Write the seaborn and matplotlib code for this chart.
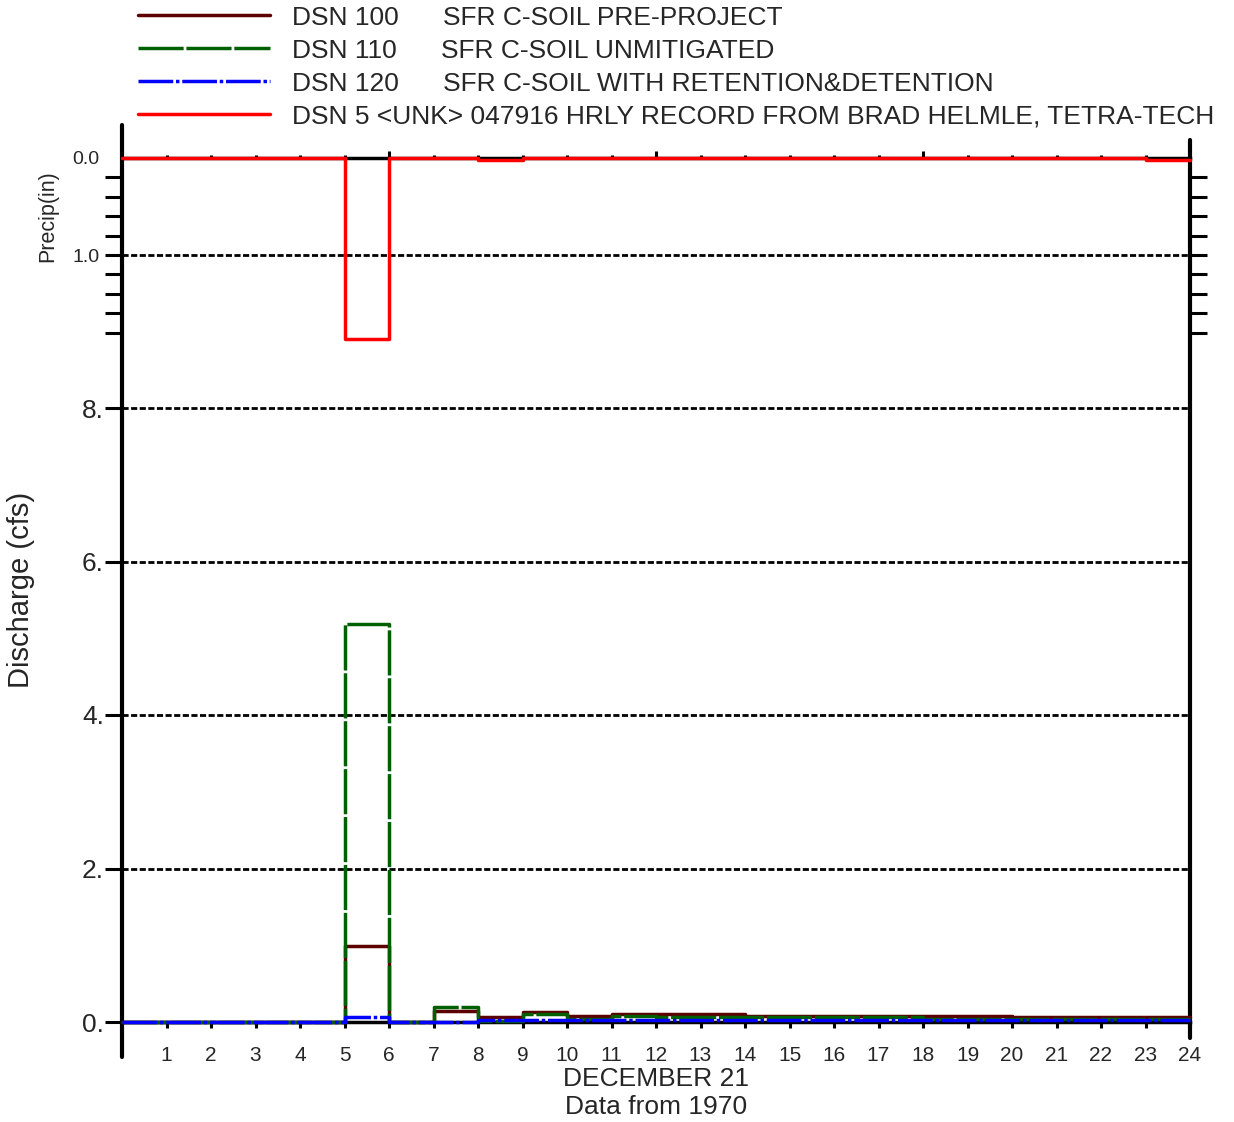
import numpy as np
import pandas as pd
import matplotlib
matplotlib.use('Agg')
import matplotlib.pyplot as plt
import seaborn as sns
from matplotlib.ticker import FixedLocator, FuncFormatter, NullFormatter

# valores horarios, 21 de dezembro de 1970 (hora 0-1 ... 23-24)
horas = list(range(0, 25))
dsn100 = [0.0, 0.0, 0.0, 0.0, 0.0, 0.99, 0.0, 0.14, 0.07, 0.13, 0.08, 0.10,
          0.10, 0.10, 0.08, 0.08, 0.08, 0.08, 0.08, 0.08, 0.07, 0.07, 0.07, 0.07]
dsn110 = [0.0, 0.0, 0.0, 0.0, 0.0, 5.19, 0.0, 0.20, 0.01, 0.11, 0.04, 0.08,
          0.07, 0.06, 0.06, 0.06, 0.06, 0.06, 0.04, 0.04, 0.04, 0.04, 0.04, 0.04]
dsn120 = [0.0, 0.0, 0.0, 0.0, 0.0, 0.06, 0.0, 0.0, 0.02, 0.02, 0.02, 0.03,
          0.03, 0.03, 0.03, 0.03, 0.03, 0.03, 0.03, 0.03, 0.03, 0.03, 0.03, 0.03]
precip = [0.0, 0.0, 0.0, 0.0, 0.0, 1.87, 0.0, 0.0, 0.02, 0.0, 0.0, 0.0,
          0.0, 0.0, 0.0, 0.0, 0.0, 0.0, 0.0, 0.0, 0.0, 0.0, 0.0, 0.02]

rotulos = ['DSN 100      SFR C-SOIL PRE-PROJECT',
           'DSN 110      SFR C-SOIL UNMITIGATED',
           'DSN 120      SFR C-SOIL WITH RETENTION&DETENTION',
           'DSN 5 <UNK> 047916 HRLY RECORD FROM BRAD HELMLE, TETRA-TECH']
x_ticks = list(range(1, 25))
x_labels = [str(h) for h in x_ticks]
y_ticks = [0, 2, 4, 6, 8]
p_ticks = [0.0, 1.0]
p_minor = [0.2, 0.4, 0.6, 0.8, 1.2, 1.4, 1.6, 1.8]


def degrau(vals):
    # repete o ultimo valor para fechar o degrau na hora 24
    return pd.DataFrame({'hora': horas, 'valor': vals + [vals[-1]]})


sns.set_theme(style='white')
plt.rcParams['font.family'] = ['Liberation Sans', 'DejaVu Sans']

fig = plt.figure(figsize=(12.34, 11.22), dpi=100)
ax = fig.add_axes([122 / 1234, 100 / 1122, 1068 / 1234, 864 / 1122])
tax = ax.twinx()

lw = 2.5
sns.lineplot(data=degrau(dsn100), x='hora', y='valor', ax=ax, color='#5c0000',
             lw=lw, drawstyle='steps-post', clip_on=False, zorder=3)
sns.lineplot(data=degrau(dsn110), x='hora', y='valor', ax=ax, color='#006000',
             lw=lw, drawstyle='steps-post', clip_on=False, zorder=4)
sns.lineplot(data=degrau(dsn120), x='hora', y='valor', ax=ax, color='#0000ff',
             lw=lw, drawstyle='steps-post', clip_on=False, zorder=5)
ax.lines[1].set_linestyle((0, (13, 0.8)))
ax.lines[2].set_linestyle((0, (10, 0.8, 1, 0.8)))
sns.lineplot(data=degrau(precip), x='hora', y='valor', ax=tax, color='#ff0000',
             lw=lw, drawstyle='steps-post', clip_on=False, zorder=5)

# eixos
ax.set_xlim(0, 24)
ax.set_ylim(0, (1022 - 158) / 76.75)
tax.set_ylim((1022 - 158) / 97.0, 0)

ax.xaxis.set_major_locator(FixedLocator(x_ticks))
ax.xaxis.set_major_formatter(FuncFormatter(lambda v, p: x_labels[int(round(v)) - 1]))
ax.xaxis.set_minor_locator(FixedLocator([6, 12, 18]))
ax.xaxis.set_minor_formatter(NullFormatter())
ax.tick_params(axis='x', which='both', bottom=True, top=False, direction='out',
               width=2.2, color='black', labelsize=15)
ax.tick_params(axis='x', which='major', length=4, pad=13)
ax.tick_params(axis='x', which='minor', length=7)

sec = ax.secondary_xaxis('top')
sec.xaxis.set_major_locator(FixedLocator([6, 12, 18]))
sec.xaxis.set_minor_locator(FixedLocator([h for h in range(1, 24) if h % 6]))
sec.tick_params(which='both', direction='out', width=2.2, color='black', labeltop=False)
sec.tick_params(which='major', length=5)
sec.tick_params(which='minor', length=2)
sec.spines['top'].set_visible(False)

ax.set_yticks(y_ticks)
ax.yaxis.set_major_formatter(FuncFormatter(lambda v, p: f'{v:.0f}.'))
ax.tick_params(axis='y', left=True, right=False, direction='out', length=12,
               width=2.2, color='black', labelsize=19, pad=1)
ax.grid(axis='y', color='black', linestyle=(0, (2.2, 0.9)), lw=2)
ax.grid(axis='x', visible=False)

tax.yaxis.set_major_locator(FixedLocator(p_ticks))
tax.yaxis.set_minor_locator(FixedLocator(p_minor))
tax.yaxis.set_major_formatter(FuncFormatter(lambda v, p: f'{v:.1f}'))
tax.yaxis.set_ticks_position('both')
tax.tick_params(axis='y', which='both', left=True, right=True, labelleft=True,
                labelright=False, direction='out', length=12, width=2.2,
                color='black', labelsize=14, pad=4)
tax.yaxis.get_major_ticks()[0].tick1line.set_visible(False)
tax.yaxis.get_major_ticks()[0].tick2line.set_visible(False)
tax.grid(axis='y', which='major', color='black', linestyle=(0, (2.2, 0.9)), lw=2)
tax.grid(axis='x', visible=False)

for a in (ax, tax):
    for s in a.spines.values():
        s.set_visible(False)
for lado in ('top', 'bottom'):
    ax.spines[lado].set_visible(True)
    ax.spines[lado].set_linewidth(2.5)
    ax.spines[lado].set_color('black')
ax.axvline(0, ymin=-0.041, ymax=1.038, color='black', lw=3, clip_on=False)
ax.axvline(24, ymin=-0.019, ymax=1.021, color='black', lw=3, clip_on=False)

ax.set_ylabel('Discharge (cfs)', fontsize=21, labelpad=34)
tax.set_ylabel('')
fig.text(48 / 1234, 1 - 216 / 1122, 'Precip(in)', rotation=90, fontsize=15.5,
         ha='center', va='center')
ax.set_xlabel('DECEMBER 21\nData from 1970', fontsize=19, labelpad=2, linespacing=1.2)

handles = ax.lines[:3] + [tax.lines[0]]
fig.legend(handles, rotulos, loc='upper left', bbox_to_anchor=(138 / 1234, 0.995),
           frameon=False, fontsize=19, handlelength=5.0, handletextpad=0.85,
           labelspacing=0.34, borderpad=0.0, borderaxespad=0.0)

fig.savefig('out.png', dpi=100)
